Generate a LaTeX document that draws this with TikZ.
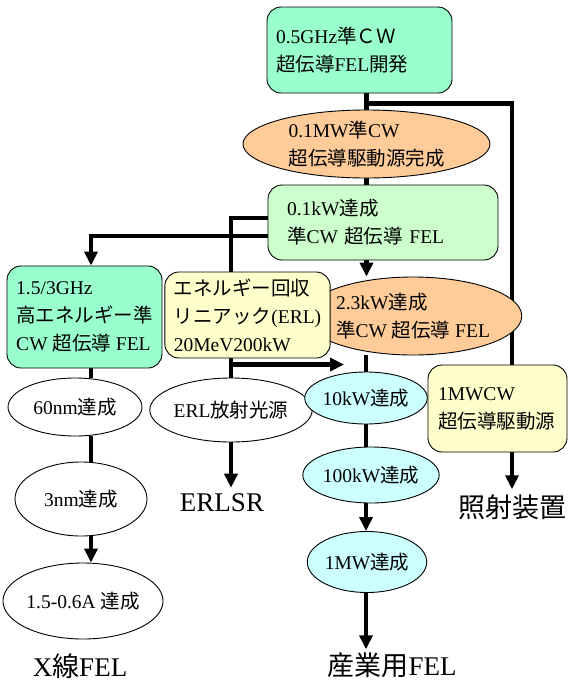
\documentclass[tikz,border=0pt]{standalone}
\usepackage{fontspec}
\setmainfont{Liberation Serif}
\newfontfamily\jpfont{Noto Sans CJK JP}
\newcommand{\ja}[1]{{\jpfont #1}}
\usetikzlibrary{arrows.meta,shapes.geometric,backgrounds}

\definecolor{mint}{HTML}{99FFCC}
\definecolor{palegreen}{HTML}{CCFFCC}
\definecolor{apricot}{HTML}{FFCC99}
\definecolor{cream}{HTML}{FFFFCC}
\definecolor{icecyan}{HTML}{CCFFFF}

\tikzset{
  plan/.style={draw=black, line width=0.9pt, rounded corners=14pt, align=left, inner xsep=9pt, inner ysep=0pt, font=\fontsize{19.5}{28}\selectfont},
  goal/.style={ellipse, draw=black, line width=0.9pt, inner sep=0pt, align=left, font=\fontsize{19.5}{28}\selectfont},
  result/.style={inner sep=1pt, font=\fontsize{27}{30}\selectfont},
  link/.style={line width=4.5pt},
  flow/.style={line width=4.5pt, -{Triangle[length=14pt,width=13pt]}},
}

\begin{document}
\begin{tikzpicture}[x=1pt,y=1pt,yscale=-1]
\useasboundingbox (0,0) rectangle (570,683);

%Rounded Rect
\node[plan, fill=mint, minimum width=185pt, minimum height=86pt, text width=167pt] (dev) at (359.5,50) {0.5GHz\ja{準ＣＷ}\\\ja{超伝導}FEL\ja{開発}};
%Ellipse
\node[goal, fill=apricot, minimum width=247pt, minimum height=68pt] (drv) at (366.5,144) {0.1MW\ja{準}CW\\\ja{超伝導駆動源完成}};
%Rounded Rect
\node[plan, fill=palegreen, inner xsep=19pt, minimum width=230pt, minimum height=75pt, text width=192pt] (kw01) at (383,222.5) {0.1kW\ja{達成}\\\ja{準}CW \ja{超伝導} FEL};
%Rounded Rect
\node[plan, fill=mint, minimum width=155pt, minimum height=102pt] (fel15) at (84.5,317) {1.5/3GHz\\\ja{高エネルギー準}\\CW \ja{超伝導} FEL};
%Ellipse
\node[goal, fill=apricot, minimum width=183pt, minimum height=78pt] (kw23) at (413,316) {2.3kW\ja{達成}\\\ja{準}CW \ja{超伝導} FEL};
%Rounded Rect
\node[plan, fill=cream, minimum width=155pt, minimum height=86pt] (erlac) at (247.5,315) {\ja{エネルギー回収}\\\ja{リニアック}(ERL)\\20MeV200kW};
%Rounded Rect
\node[plan, fill=cream, inner xsep=10pt, minimum width=139pt, minimum height=87pt, text width=119pt] (mwcw) at (497.5,408.5) {1MWCW\\\ja{超伝導駆動源}};

%Ellipses, left column
\node[goal, fill=white, minimum width=134pt, minimum height=58pt] (nm60) at (75,407) {60nm\ja{達成}};
\node[goal, fill=white, minimum width=132pt, minimum height=74pt] (nm3) at (81,499) {3nm\ja{達成}};
\node[goal, fill=white, minimum width=154pt, minimum height=76pt] (ang) at (83,601) {1.5-0.6A \ja{達成}};
%Ellipse, ERL
\node[goal, fill=white, minimum width=156pt, minimum height=64pt] (erl) at (231,410) {ERL\ja{放射光源}};
%Ellipses, main column
\node[goal, fill=icecyan, minimum width=103pt, minimum height=52pt] (kw10) at (366,398) {10kW\ja{達成}};
\node[goal, fill=icecyan, minimum width=117pt, minimum height=56pt] (kw100) at (371,475) {100kW\ja{達成}};
\node[goal, fill=icecyan, minimum width=107pt, minimum height=61pt] (mw1) at (367,562) {1MW\ja{達成}};

% Text Node
\node[result] (erlsr) at (222,503) {ERLSR};
% Text Node
\node[result] (irr) at (512,507) {\ja{照射装置}};
% Text Node
\node[result] (xfel) at (80,666) {X\ja{線}FEL};
% Text Node
\node[result] (ind) at (392,665) {\ja{産業用}FEL};

\coordinate (xcol) at (91,0);
\path (dev.south -| drv.north) ++(0,10) coordinate (split);
\path (erl.north) ++(0,-13) coordinate (fork);
\path (fork) ++(113,0) coordinate (erltip);

\begin{scope}[on background layer]
%Straight Lines
\draw[link] (drv.north |- dev.south) -- (drv.north);
\draw[flow, shorten >=4pt] (split) -| (irr.north);
\draw[link] (drv.south) -- (drv.south |- kw01.north);
\draw[flow] ([yshift=13.5pt]kw01.west) -| (xcol |- fel15.north);
\draw[link] ([yshift=-4.5pt]kw01.west) -| (erl.north);
\draw[flow] (fork) -- (erltip);
\draw[flow, shorten >=5pt] (erl.south) -- (erl.south |- erlsr.north);
\draw[flow] (drv.south |- kw01.south) -- (drv.south |- kw23.north);
\draw[link] (kw10.north |- kw23.south) -- (kw10.north);
\draw[link] (kw10.south) -- (kw10.south |- kw100.north);
\draw[flow] (kw10.south |- kw100.south) -- (kw10.south |- mw1.north);
\draw[flow, shorten >=2pt] (kw10.south |- mw1.south) -- (kw10.south |- ind.north);
\draw[link] (xcol |- fel15.south) -- (xcol |- nm60.north);
\draw[link] (xcol |- nm60.south) -- (xcol |- nm3.north);
\draw[flow] (xcol |- nm3.south) -- (xcol |- ang.north);
\end{scope}

\end{tikzpicture}
\end{document}
